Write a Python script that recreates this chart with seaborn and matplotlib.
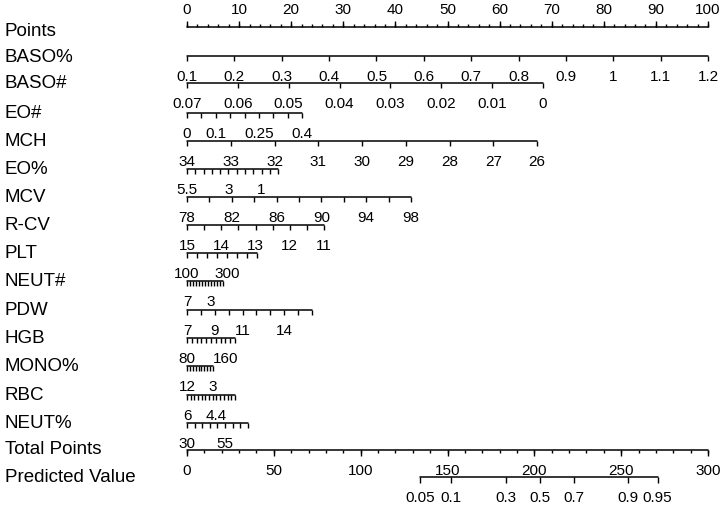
import matplotlib.pyplot as plt
import matplotlib.transforms as mtransforms
import pandas as pd
import seaborn as sns

# Variables of the nomogram, top to bottom
variables = ['BASO%', 'BASO#', 'EO#', 'MCH', 'EO%', 'MCV', 'R-CV', 'PLT',
             'NEUT#', 'PDW', 'HGB', 'MONO%', 'RBC', 'NEUT%']

# Tick values along each scale (first tick sits at 0 points)
tick_values = {
    'BASO%': [0.1, 0.2, 0.3, 0.4, 0.5, 0.6, 0.7, 0.8, 0.9, 1.0, 1.1, 1.2],
    'BASO#': [0.07, 0.06, 0.05, 0.04, 0.03, 0.02, 0.01, 0.0],
    'EO#': [0.0, 0.05, 0.1, 0.15, 0.2, 0.25, 0.3, 0.35, 0.4],
    'MCH': [34, 33, 32, 31, 30, 29, 28, 27, 26],
    'EO%': [5.5, 5, 4.5, 4, 3.5, 3, 2.5, 2, 1.5, 1, 0.5, 0],
    'MCV': [78, 80, 82, 84, 86, 88, 90, 92, 94, 96, 98],
    'R-CV': [15, 14.5, 14, 13.5, 13, 12.5, 12, 11.5, 11],
    'PLT': [100, 150, 200, 250, 300, 350, 400, 450],
    'NEUT#': [7, 6.5, 6, 5.5, 5, 4.5, 4, 3.5, 3, 2.5, 2, 1.5, 1],
    'PDW': [7, 8, 9, 10, 11, 12, 13, 14, 15, 16],
    'HGB': [80, 90, 100, 110, 120, 130, 140, 150, 160, 170, 180],
    'MONO%': [12, 11, 10, 9, 8, 7, 6, 5, 4, 3],
    'RBC': [6, 5.8, 5.6, 5.4, 5.2, 5, 4.8, 4.6, 4.4, 4.2, 4, 3.8, 3.6, 3.4],
    'NEUT%': [30, 35, 40, 45, 50, 55, 60, 65, 70],
}

# Ticks that carry a label
tick_labels = {
    'BASO%': ['0.1', '0.2', '0.3', '0.4', '0.5', '0.6', '0.7', '0.8', '0.9', '1', '1.1', '1.2'],
    'BASO#': ['0.07', '0.06', '0.05', '0.04', '0.03', '0.02', '0.01', '0'],
    'EO#': ['0', '0.1', '0.25', '0.4'],
    'MCH': ['34', '33', '32', '31', '30', '29', '28', '27', '26'],
    'EO%': ['5.5', '3', '1'],
    'MCV': ['78', '82', '86', '90', '94', '98'],
    'R-CV': ['15', '14', '13', '12', '11'],
    'PLT': ['100', '300'],
    'NEUT#': ['7', '3'],
    'PDW': ['7', '9', '11', '14'],
    'HGB': ['80', '160'],
    'MONO%': ['12', '3'],
    'RBC': ['6', '4.4'],
    'NEUT%': ['30', '55'],
}

# Points reached at the last tick of each scale
points_end = [100, 68.3, 22.1, 67.2, 17.5, 43.0, 26.3, 13.4, 6.9, 24.0, 9.2, 5.0, 9.2, 11.7]

# Points scale and total points scale
points_labels = [0, 10, 20, 30, 40, 50, 60, 70, 80, 90, 100]
total_labels = [0, 50, 100, 150, 200, 250, 300]
total_max = 300

# Predicted value scale: probability and its total points
pred_probs = ['0.05', '0.1', '0.3', '0.5', '0.7', '0.9', '0.95']
pred_total = [134, 152, 183.5, 203, 223, 254, 271]

# Layout (pixel rows)
W, H = 725, 510
x0_px, px_per_pt = 187, 5.21
points_y = 28
row_y = [57, 84, 114, 142, 170, 198, 226, 254, 282, 311, 339, 367, 396, 424]
total_y = 451
pred_y = 478

sns.set_theme(style="white")
plt.rcParams['font.family'] = ['Liberation Sans', 'DejaVu Sans']

fig = plt.figure(figsize=(W / 100, H / 100), dpi=100)
ax = fig.add_axes([0, 0, 1, 1])

name_tf = mtransforms.blended_transform_factory(ax.transAxes, ax.transData)
lab_fs = 11
name_fs = 13.5
tick_len = 5

# Build baseline segments for all scales
segs = []
segs.append({'scale': 'Points', 'x': 0, 'y': points_y})
segs.append({'scale': 'Points', 'x': 100, 'y': points_y})
for var, y, pend in zip(variables, row_y, points_end):
    segs.append({'scale': var, 'x': 0, 'y': y})
    segs.append({'scale': var, 'x': pend, 'y': y})
segs.append({'scale': 'Total Points', 'x': 0, 'y': total_y})
segs.append({'scale': 'Total Points', 'x': 100, 'y': total_y})
segs.append({'scale': 'Predicted Value', 'x': pred_total[0] * 100 / total_max, 'y': pred_y})
segs.append({'scale': 'Predicted Value', 'x': pred_total[-1] * 100 / total_max, 'y': pred_y})
seg_df = pd.DataFrame(segs)

sns.lineplot(data=seg_df, x='x', y='y', units='scale', estimator=None,
             color='black', linewidth=1.1, ax=ax, sort=False)
ax.set_xlim(-x0_px / px_per_pt, (W - x0_px) / px_per_pt)
ax.set_ylim(H, 0)
ax.axis('off')

# Points axis: ticks up, labels above
minor = list(range(0, 101, 2))
ax.vlines(minor, points_y - 3, points_y, color='black', linewidth=1)
ax.vlines(points_labels, points_y - 6, points_y, color='black', linewidth=1)
for p in points_labels:
    ax.text(p, 10, str(p), ha='center', va='center', fontsize=lab_fs, color='black')
ax.text(5 / W, 32, 'Points', transform=name_tf, ha='left', va='center',
        fontsize=name_fs, color='black')

# Variable scales
for var, y, pend in zip(variables, row_y, points_end):
    vals = tick_values[var]
    v0, v1 = vals[0], vals[-1]
    pos = [(v - v0) / (v1 - v0) * pend for v in vals]
    ax.vlines(pos, y, y + tick_len, color='black', linewidth=1)
    for lab in tick_labels[var]:
        v = float(lab)
        p = (v - v0) / (v1 - v0) * pend
        ax.text(p, y + 20, lab, ha='center', va='center', fontsize=lab_fs, color='black')
    ax.text(5 / W, y, var, transform=name_tf, ha='left', va='center',
            fontsize=name_fs, color='black')

# Total points
tminor = [t * 100 / total_max for t in range(0, total_max + 1, 10)]
ax.vlines(tminor, total_y, total_y + 3, color='black', linewidth=1)
tmajor = [t * 100 / total_max for t in total_labels]
ax.vlines(tmajor, total_y, total_y + 6, color='black', linewidth=1)
for t, x in zip(total_labels, tmajor):
    ax.text(x, total_y + 20, str(t), ha='center', va='center', fontsize=lab_fs, color='black')
ax.text(5 / W, total_y - 1, 'Total Points', transform=name_tf, ha='left', va='center',
        fontsize=name_fs, color='black')

# Predicted value
px = [t * 100 / total_max for t in pred_total]
ax.vlines(px, pred_y, pred_y + 6, color='black', linewidth=1)
for lab, x in zip(pred_probs, px):
    ax.text(x, pred_y + 20, lab, ha='center', va='center', fontsize=lab_fs, color='black')
ax.text(5 / W, pred_y, 'Predicted Value', transform=name_tf, ha='left', va='center',
        fontsize=name_fs, color='black')

fig.savefig('out.png', dpi=100, facecolor='white')
